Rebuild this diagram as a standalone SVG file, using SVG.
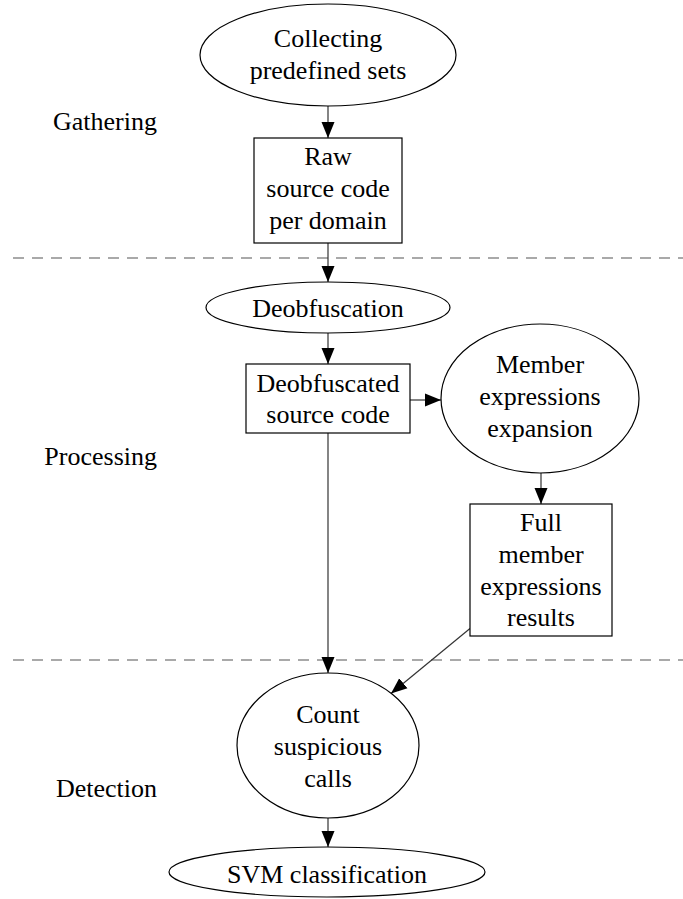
<svg xmlns="http://www.w3.org/2000/svg" width="683" height="899" viewBox="0 0 683 899">
<style>
  .t { font-family: "Liberation Serif", "Times New Roman", serif; font-size: 26px; fill: #000; text-anchor: middle; }
  .lbl { font-family: "Liberation Serif", "Times New Roman", serif; font-size: 26px; fill: #000; text-anchor: end; }
  .shape { fill: #fff; stroke: #000; stroke-width: 1.2; }
  .edge { fill: none; stroke: #333; stroke-width: 1.2; }
  .dash { fill: none; stroke: #555; stroke-width: 1.2; stroke-dasharray: 11 8; }
</style>
<defs>
  <marker id="arr" markerUnits="userSpaceOnUse" markerWidth="17" markerHeight="15" viewBox="0 0 17 15" refX="16" refY="7.5" orient="auto">
    <path d="M0,1 L16,7.5 L0,14 Z" fill="#000"/>
  </marker>
</defs>
<rect width="683" height="899" fill="#fff"/>

<g id="separators">
  <line class="dash" x1="13" y1="258" x2="683" y2="258"/>
  <line class="dash" x1="13" y1="660" x2="683" y2="660"/>
</g>

<g id="stage-labels">
  <text class="lbl" x="157" y="130">Gathering</text>
  <text class="lbl" x="157" y="465">Processing</text>
  <text class="lbl" x="157" y="797">Detection</text>
</g>

<g id="connectors">
  <line class="edge" x1="328" y1="106" x2="328" y2="138" marker-end="url(#arr)"/>
  <line class="edge" x1="328" y1="243" x2="328" y2="282" marker-end="url(#arr)"/>
  <line class="edge" x1="328" y1="333" x2="328" y2="364" marker-end="url(#arr)"/>
  <line class="edge" x1="410" y1="400" x2="441" y2="400" marker-end="url(#arr)"/>
  <line class="edge" x1="541" y1="473" x2="541" y2="504" marker-end="url(#arr)"/>
  <line class="edge" x1="328" y1="433" x2="328" y2="673" marker-end="url(#arr)"/>
  <line class="edge" x1="470" y1="628.5" x2="391" y2="693.5" marker-end="url(#arr)"/>
  <line class="edge" x1="328" y1="818" x2="328" y2="847" marker-end="url(#arr)"/>
</g>

<g id="collecting">
  <ellipse class="shape" cx="328" cy="55" rx="128" ry="51"/>
  <text class="t" x="328" y="47">Collecting</text>
  <text class="t" x="328" y="79">predefined sets</text>
</g>

<g id="raw-source">
  <rect class="shape" x="254" y="138" width="148" height="105"/>
  <text class="t" x="328" y="165">Raw</text>
  <text class="t" x="328" y="197">source code</text>
  <text class="t" x="328" y="229">per domain</text>
</g>

<g id="deobfuscation">
  <ellipse class="shape" cx="328" cy="307.5" rx="122" ry="25.5"/>
  <text class="t" x="328" y="317">Deobfuscation</text>
</g>

<g id="deobfuscated-source">
  <rect class="shape" x="246" y="364" width="164" height="69"/>
  <text class="t" x="328" y="392">Deobfuscated</text>
  <text class="t" x="328" y="423">source code</text>
</g>

<g id="member-expansion">
  <ellipse class="shape" cx="540" cy="398.5" rx="99" ry="74.5"/>
  <text class="t" x="540" y="373">Member</text>
  <text class="t" x="540" y="405">expressions</text>
  <text class="t" x="540" y="437">expansion</text>
</g>

<g id="full-results">
  <rect class="shape" x="470" y="504" width="142" height="132"/>
  <text class="t" x="541" y="531">Full</text>
  <text class="t" x="541" y="563">member</text>
  <text class="t" x="541" y="595">expressions</text>
  <text class="t" x="541" y="626">results</text>
</g>

<g id="count-calls">
  <ellipse class="shape" cx="328" cy="745.5" rx="91" ry="72.5"/>
  <text class="t" x="328" y="723">Count</text>
  <text class="t" x="328" y="755">suspicious</text>
  <text class="t" x="328" y="787">calls</text>
</g>

<g id="svm">
  <ellipse class="shape" cx="327" cy="872" rx="158" ry="25"/>
  <text class="t" x="327" y="883">SVM classification</text>
</g>
</svg>
